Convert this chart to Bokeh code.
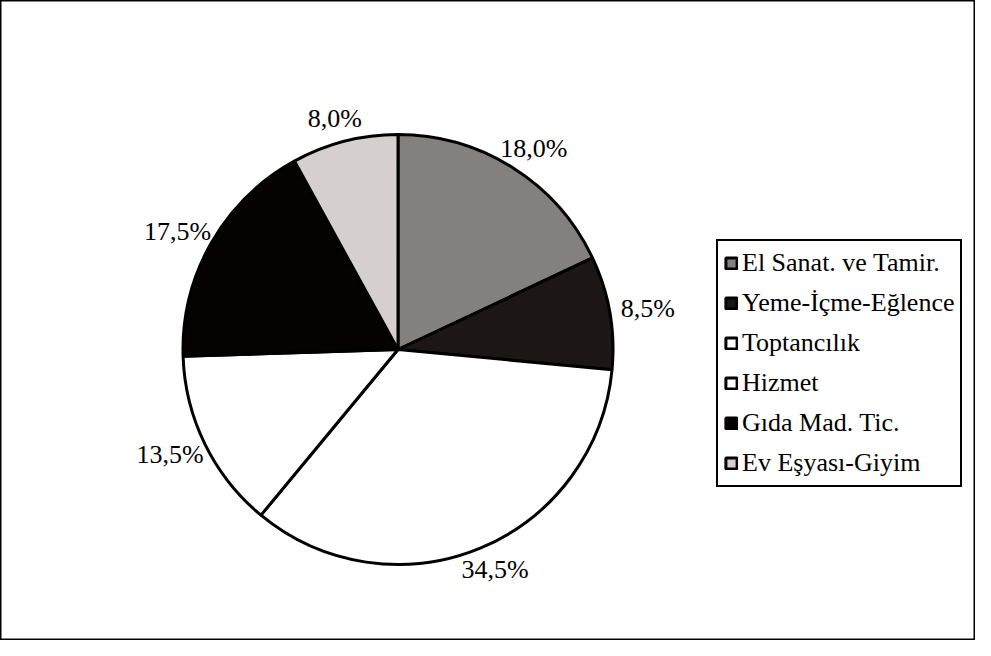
import math
from bokeh.plotting import figure
from bokeh.models import ColumnDataSource, Legend, LegendItem
from bokeh.core.properties import value
from bokeh.embed import file_html
from bokeh.resources import INLINE

# ---- data ----
categories = ["El Sanat. ve Tamir.", "Yeme-İçme-Eğlence", "Toptancılık",
              "Hizmet", "Gıda Mad. Tic.", "Ev Eşyası-Giyim"]
shares = [18.0, 8.5, 34.5, 13.5, 17.5, 8.0]
colors = ["#858080", "#1c1616", "#ffffff", "#ffffff", "#070202", "#d6cfcf"]

FONT = "Liberation Serif"

# ---- geometry helpers (built from data) ----
total = sum(shares)
starts, ends, mids = [], [], []
acc = 0.0
for v in shares:
    a0 = math.pi / 2 - 2 * math.pi * acc / total
    acc += v
    a1 = math.pi / 2 - 2 * math.pi * acc / total
    starts.append(a0)
    ends.append(a1)
    mids.append((a0 + a1) / 2)

W, H = 975, 640
SCALE = 215.0          # pixels per data unit (pie radius = 1)
CX, CY = 397.5, 349.0  # pie centre in canvas pixels (from top-left)

src = ColumnDataSource(dict(
    cat=categories, val=shares, color=colors,
    start=starts, end=ends,
    x=[0.0] * len(shares), y=[0.0] * len(shares),
))

p = figure(width=W, height=H, output_backend="svg", toolbar_location=None,
           x_range=(-CX / SCALE, (W - CX) / SCALE),
           y_range=(-(H - CY) / SCALE, CY / SCALE),
           x_axis_type=None, y_axis_type=None, min_border=0)
p.xgrid.visible = False
p.ygrid.visible = False
p.background_fill_color = "white"
p.border_fill_color = "white"
p.outline_line_color = "black"
p.outline_line_width = 2
p.outline_line_alpha = 1.0

r = p.wedge(x="x", y="y", radius=1.0, start_angle="start", end_angle="end",
            direction="clock", fill_color="color", line_color="black",
            line_width=3, source=src)

# ---- percentage labels outside the pie ----
lab_txt = [f"{v:.1f}".replace(".", ",") + "%" for v in shares]
hw, hh = 0.12, 0.05
lx, ly = [], []
for m in mids:
    c, s = math.cos(m), math.sin(m)
    lx.append(1.06 * c + c * hw)
    ly.append(1.06 * s + s * hh)
lsrc = ColumnDataSource(dict(x=lx, y=ly, t=lab_txt))
p.text(x="x", y="y", text="t", source=lsrc, text_align="center",
       text_baseline="middle", text_font_size="26px",
       text_font=value(FONT), text_color="black")

# ---- legend ----
items = [LegendItem(label=c, renderers=[r], index=i) for i, c in enumerate(categories)]
legend = Legend(items=items, location=(716, 153),
                label_text_font=FONT, label_text_font_size="26px",
                label_text_color="black",
                glyph_width=14, glyph_height=14, label_height=32,
                label_standoff=4, spacing=8, padding=6, margin=0,
                border_line_color="black", border_line_width=2,
                border_line_alpha=1.0,
                background_fill_color="white", background_fill_alpha=1.0)
p.add_layout(legend)

open("out.html", "w").write(file_html(p, INLINE))
